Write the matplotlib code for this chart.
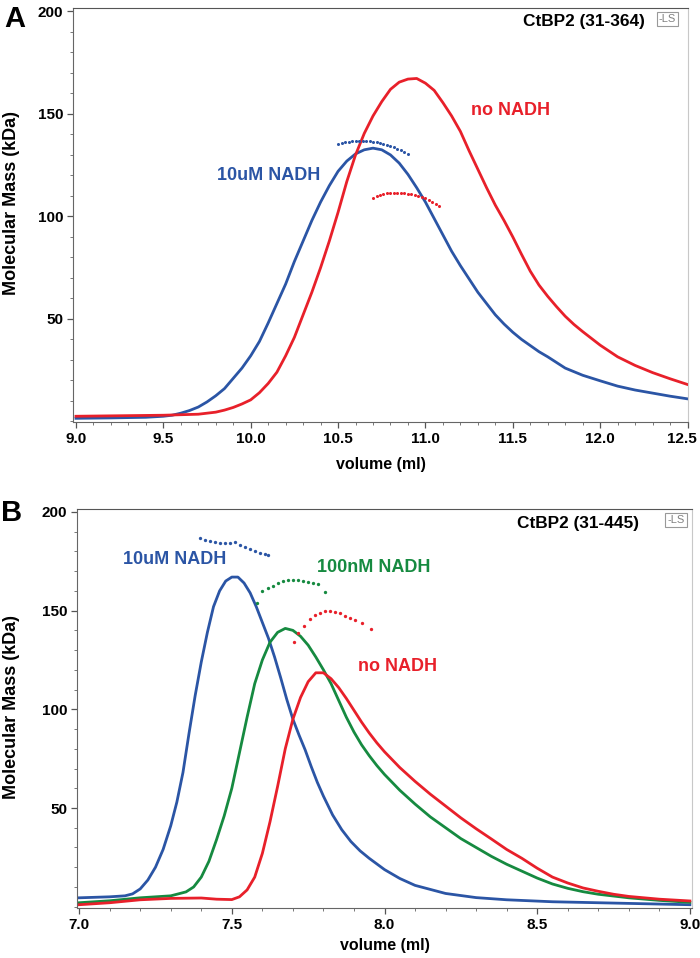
import numpy as np
import matplotlib.pyplot as plt
from matplotlib.ticker import MultipleLocator, FixedLocator, FormatStrFormatter
from matplotlib.transforms import ScaledTranslation

plt.rcParams['font.family'] = ['Liberation Sans', 'DejaVu Sans']

BLUE = '#2b55a5'
RED = '#e8202a'
GREEN = '#168a40'

# ---- panel A : CtBP2 (31-364) ----
a_xticks = [9.0, 9.5, 10.0, 10.5, 11.0, 11.5, 12.0, 12.5]
a_blue_vol = [9.0, 9.2, 9.4, 9.5, 9.55, 9.6, 9.65, 9.7, 9.75, 9.8, 9.85, 9.9, 9.95,
              10.0, 10.05, 10.1, 10.15, 10.2, 10.25, 10.3, 10.35, 10.4, 10.45, 10.5,
              10.55, 10.6, 10.65, 10.7, 10.75, 10.8, 10.85, 10.9, 10.95, 11.0, 11.05,
              11.1, 11.15, 11.2, 11.25, 11.3, 11.35, 11.4, 11.45, 11.5, 11.55, 11.6,
              11.65, 11.7, 11.8, 11.9, 12.0, 12.1, 12.2, 12.3, 12.4, 12.5]
a_blue_mass = [1.5, 1.7, 2.0, 2.5, 3.0, 4.0, 5.3, 7.0, 9.5, 12.5, 16, 21, 26,
               32, 39, 48, 57.5, 67, 78, 88, 98, 107, 115, 122,
               127, 130.5, 132.5, 133.3, 132.5, 130, 126, 120.5, 114, 107, 99,
               91, 83, 76, 69.5, 63, 57.5, 52, 47.5, 43.5, 40, 37,
               34, 31.5, 26, 22.5, 19.8, 17.2, 15.3, 13.8, 12.3, 11]

a_red_vol = [9.0, 9.3, 9.5, 9.7, 9.8, 9.85, 9.9, 9.95, 10.0, 10.05, 10.1, 10.15, 10.2,
             10.25, 10.3, 10.35, 10.4, 10.45, 10.5, 10.55, 10.6, 10.65, 10.7, 10.75,
             10.8, 10.85, 10.9, 10.95, 11.0, 11.05, 11.1, 11.15, 11.2, 11.25, 11.3,
             11.35, 11.4, 11.45, 11.5, 11.55, 11.6, 11.65, 11.7, 11.75, 11.8, 11.85,
             11.9, 12.0, 12.1, 12.2, 12.3, 12.4, 12.5]
a_red_mass = [2.5, 2.8, 3.0, 3.5, 4.5, 5.5, 6.8, 8.5, 10.5, 14, 18.5, 24, 32,
              41, 52, 63, 75, 88, 102, 117, 130, 140.5, 149, 156,
              162, 165.5, 167, 167.3, 165, 161.5, 155.5, 149, 141.5, 132, 123,
              114, 105.5, 98, 90, 81.5, 73.3, 66.5, 61, 56, 51.3, 47.3,
              43.8, 37.2, 31.5, 27.3, 23.8, 20.8, 18]

a_blue_dot_vol = [10.50, 10.52, 10.54, 10.56, 10.58, 10.60, 10.62, 10.64, 10.66, 10.68, 10.70,
                  10.72, 10.74, 10.76, 10.78, 10.80, 10.82, 10.84, 10.86, 10.88, 10.90]
a_blue_dot_mass = [135.4, 135.8, 136.1, 136.4, 136.6, 136.7, 136.8, 136.8, 136.8, 136.6, 136.4,
                   136.1, 135.7, 135.3, 134.9, 134.4, 133.8, 133.1, 132.3, 131.5, 130.6]
a_red_dot_vol = [10.70, 10.72, 10.74, 10.76, 10.78, 10.80, 10.82, 10.84, 10.86, 10.88,
                 10.90, 10.92, 10.94, 10.96, 10.98, 11.00, 11.02, 11.04, 11.06, 11.08]
a_red_dot_mass = [108.9, 109.8, 110.5, 111.0, 111.3, 111.4, 111.5, 111.5, 111.4, 111.3,
                  111.1, 110.8, 110.5, 110.0, 109.5, 108.9, 108.1, 107.2, 106.2, 105.2]

# ---- panel B : CtBP2 (31-445) ----
b_xticks = [7.0, 7.5, 8.0, 8.5, 9.0]
b_blue_vol = [7.0, 7.1, 7.15, 7.175, 7.2, 7.225, 7.25, 7.275, 7.3, 7.32, 7.34, 7.36, 7.38,
              7.40, 7.42, 7.44, 7.46, 7.48, 7.50, 7.52, 7.54, 7.56, 7.58, 7.60, 7.62,
              7.64, 7.66, 7.68, 7.70, 7.72, 7.74, 7.76, 7.78, 7.80, 7.83, 7.86, 7.89,
              7.92, 7.95, 8.0, 8.05, 8.1, 8.2, 8.3, 8.4, 8.55, 8.7, 9.0]
b_blue_mass = [4.5, 5.0, 5.5, 6.5, 9, 13.5, 20, 29, 41, 53, 68, 88, 107,
               124, 139, 152, 160, 165, 167, 167, 164, 159, 152, 144, 136,
               126.5, 116, 105, 95, 87, 79.5, 71, 63, 56, 46.5, 39, 33,
               28.3, 24.5, 18.8, 14.3, 10.8, 6.7, 4.6, 3.5, 2.5, 2, 1]

b_green_vol = [7.0, 7.1, 7.2, 7.3, 7.35, 7.375, 7.40, 7.425, 7.45, 7.475, 7.50, 7.525,
               7.55, 7.575, 7.60, 7.625, 7.65, 7.675, 7.70, 7.725, 7.75, 7.775, 7.80,
               7.825, 7.85, 7.875, 7.9, 7.925, 7.95, 7.975, 8.0, 8.05, 8.1, 8.15, 8.2,
               8.25, 8.3, 8.35, 8.4, 8.45, 8.5, 8.55, 8.6, 8.65, 8.7, 8.8, 8.9, 9.0]
b_green_mass = [2, 3, 4.5, 5.5, 7.5, 10, 15, 23, 34, 46, 60, 78,
                96, 113, 125, 134, 139, 141, 140, 137, 132.5, 126.5, 120,
                113, 104.5, 96, 88.5, 82, 76.5, 71.5, 67, 59, 52, 45.5, 40,
                34.5, 30, 25.5, 21.5, 18, 14.5, 11.5, 9.3, 7.6, 6.3, 4.5, 3.2, 2.2]

b_red_vol = [7.0, 7.1, 7.2, 7.3, 7.4, 7.45, 7.5, 7.525, 7.55, 7.575, 7.6, 7.625, 7.65,
             7.675, 7.70, 7.725, 7.75, 7.775, 7.80, 7.825, 7.85, 7.875, 7.9, 7.925,
             7.95, 7.975, 8.0, 8.05, 8.1, 8.15, 8.2, 8.25, 8.3, 8.35, 8.4, 8.45, 8.5,
             8.55, 8.6, 8.65, 8.7, 8.75, 8.8, 8.9, 9.0]
b_red_mass = [1, 2, 3.5, 4.2, 4.4, 3.8, 3.6, 5, 8.5, 15, 27, 43, 61,
              80, 95, 106, 114, 118.5, 118.5, 115.5, 111, 105.5, 99.5, 93.5,
              88, 83, 78.5, 70.5, 63.5, 57, 51, 45, 39.5, 34.3, 29, 24.5, 19.5,
              15, 12, 9.5, 7.8, 6.3, 5.2, 3.8, 2.9]

b_blue_dot_vol = [7.396, 7.412, 7.429, 7.445, 7.462, 7.478, 7.494, 7.511, 7.527, 7.544,
                  7.560, 7.576, 7.593, 7.609, 7.620]
b_blue_dot_mass = [186.7, 185.9, 185.3, 184.8, 184.5, 184.2, 184.2, 184.6, 183.3, 182.1,
                   181.1, 180.3, 179.4, 178.6, 178.0]
b_green_dot_vol = [7.584, 7.598, 7.620, 7.636, 7.652, 7.669, 7.685, 7.701, 7.718, 7.734,
                   7.750, 7.767, 7.783, 7.805]
b_green_dot_mass = [154.1, 159.7, 161.4, 162.6, 163.9, 165.1, 165.6, 165.6, 165.3, 164.8,
                    164.6, 163.9, 163.4, 159.2]
b_red_dot_vol = [7.702, 7.718, 7.737, 7.756, 7.773, 7.789, 7.805, 7.822, 7.838, 7.854,
                 7.871, 7.887, 7.903, 7.925, 7.955]
b_red_dot_mass = [134.3, 138.6, 142.3, 145.7, 147.9, 149.0, 149.9, 150.0, 149.5, 148.7,
                  147.5, 146.5, 145.3, 143.6, 140.7]


def style_axes(ax, xlim, ylim, xticks, ylabel_xy, xlabel_y):
    ax.set_xlim(*xlim)
    ax.set_ylim(*ylim)
    ax.xaxis.set_major_locator(FixedLocator(xticks))
    ax.xaxis.set_minor_locator(MultipleLocator(0.1))
    ax.xaxis.set_major_formatter(FormatStrFormatter('%.1f'))
    ax.yaxis.set_major_locator(FixedLocator([50, 100, 150, 200]))
    ax.yaxis.set_minor_locator(FixedLocator(np.arange(0, 201, 10)))
    ax.tick_params(which='major', direction='out', length=4, width=0.9, color='#555555',
                   labelsize=11, pad=3)
    ax.tick_params(which='minor', direction='out', length=2, width=0.7, color='#777777')
    for lab in ax.get_xticklabels() + ax.get_yticklabels():
        lab.set_fontweight('bold')
    ax.spines['left'].set_color('#666666')
    ax.spines['bottom'].set_color('#666666')
    ax.spines['top'].set_color('#555555')
    ax.spines['right'].set_color('#c8c8c8')
    ax.set_ylabel('Molecular Mass (kDa)', fontsize=13, fontweight='bold')
    ax.set_xlabel('volume (ml)', fontsize=11.5, fontweight='bold')
    ax.yaxis.set_label_coords(*ylabel_xy)
    ax.xaxis.set_label_coords(0.5, xlabel_y)


def ls_box(ax, x, y):
    ax.text(x, y, '-LS', color='#808080', fontsize=8, ha='center', va='center',
            bbox=dict(boxstyle='square,pad=0.2', fc='white', ec='#999999', lw=0.8))


fig = plt.figure(figsize=(7.0, 9.58), dpi=100)

axA = fig.add_axes([0.1043, 0.5595, 0.8786, 0.4322])
axA.plot(a_blue_vol, a_blue_mass, color=BLUE, lw=2)
axA.plot(a_red_vol, a_red_mass, color=RED, lw=2)
axA.plot(a_blue_dot_vol, a_blue_dot_mass, 'o', color=BLUE, ms=2.2, mew=0)
axA.plot(a_red_dot_vol, a_red_dot_mass, 'o', color=RED, ms=2.2, mew=0)
style_axes(axA, (8.983, 12.503), (-0.3, 201.7), a_xticks, (-0.086, 0.53), -0.085)
# last x label sits on the figure edge: nudge it a little to the left
last = axA.xaxis.get_major_ticks()[-1].label1
last.set_transform(last.get_transform() + ScaledTranslation(-4 / 72, 0, fig.dpi_scale_trans))
axA.text(10.10, 120.2, '10uM NADH', color=BLUE, fontsize=13, fontweight='bold',
         ha='center', va='center')
axA.text(11.487, 151.7, 'no NADH', color=RED, fontsize=13, fontweight='bold',
         ha='center', va='center')
axA.text(11.91, 195, 'CtBP2 (31-364)', color='black', fontsize=12.4, fontweight='bold',
         ha='center', va='center')
ls_box(axA, 12.385, 196.2)
fig.text(15 / 700, 1 - 19 / 958, 'A', fontsize=21, fontweight='bold', ha='center', va='center')

axB = fig.add_axes([0.11, 0.0522, 0.8786, 0.4165])
axB.plot(b_blue_vol, b_blue_mass, color=BLUE, lw=2)
axB.plot(b_green_vol, b_green_mass, color=GREEN, lw=2)
axB.plot(b_red_vol, b_red_mass, color=RED, lw=2)
axB.plot(b_blue_dot_vol, b_blue_dot_mass, 'o', color=BLUE, ms=2.4, mew=0)
axB.plot(b_green_dot_vol, b_green_dot_mass, 'o', color=GREEN, ms=2.4, mew=0)
axB.plot(b_red_dot_vol, b_red_dot_mass, 'o', color=RED, ms=2.4, mew=0)
style_axes(axB, (6.993, 9.007), (-0.66, 201.5), b_xticks, (-0.092, 0.5025), -0.076)
axB.text(7.313, 175.7, '10uM NADH', color=BLUE, fontsize=13, fontweight='bold',
         ha='center', va='center')
axB.text(7.966, 171.9, '100nM NADH', color=GREEN, fontsize=13, fontweight='bold',
         ha='center', va='center')
axB.text(8.0435, 121.5, 'no NADH', color=RED, fontsize=13, fontweight='bold',
         ha='center', va='center')
axB.text(8.633, 194, 'CtBP2 (31-445)', color='black', fontsize=12.4, fontweight='bold',
         ha='center', va='center')
ls_box(axB, 8.955, 196.0)
fig.text(12 / 700, 1 - 513 / 958, 'B', fontsize=21, fontweight='bold', ha='center', va='center')

fig.savefig('out.png', dpi=100)
